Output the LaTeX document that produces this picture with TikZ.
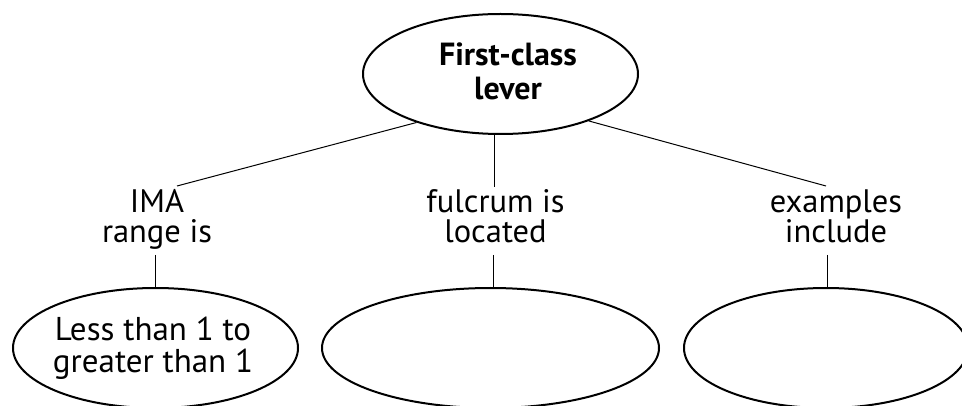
\documentclass[tikz,border=0pt]{standalone}
\usepackage{fontspec}
\setmainfont{PT Sans}
\usetikzlibrary{shapes.geometric}
\tikzset{
  bubble/.style={ellipse, draw=black, line width=2pt, inner sep=0pt},
  link/.style={draw=black, line width=1pt},
  lbl/.style={align=center, inner sep=0pt, anchor=base, font=\fontsize{32.5}{30}\selectfont},
}
\begin{document}
\begin{tikzpicture}[x=1pt,y=-1pt]
\useasboundingbox (0,0) rectangle (962,406);
% ellipses
\node[bubble, minimum width=275pt, minimum height=120pt] (top) at (500.5,74) {};
\node[inner sep=0pt, anchor=base, align=center, font=\fontsize{32}{34}\selectfont\bfseries] (toptxt) at (508,100) {First-class\\lever};
\node[bubble, minimum width=285pt, minimum height=120pt] (b1) at (155.5,348) {};
\node[inner sep=0pt, anchor=base, align=center, font=\fontsize{33}{32}\selectfont] (b1txt) at (153,372) {Less than 1 to\\greater than 1};
\node[bubble, minimum width=337pt, minimum height=120pt] (b2) at (490.5,348) {};
\node[bubble, minimum width=284pt, minimum height=120pt] (b3) at (826,348) {};
% labels
\node[lbl] (l1) at (157,243) {IMA\\range is};
\node[lbl] (l2) at (495.5,243) {fulcrum is\\located};
\node[lbl] (l3) at (836,243) {examples\\include};
% connector ends
\coordinate (a1) at (177,186);
\coordinate (a2) at (494,187);
\coordinate (a3) at (826,186);
\coordinate (d1) at (155,255);
\coordinate (d2) at (493,255);
\coordinate (d3) at (827,255);
% connectors
\draw[link] (top.210.9) -- (a1);
\draw[link] (a2 |- top.south) -- (a2);
\draw[link] (top.332.7) -- (a3);
\draw[link] (d1) -- (d1 |- b1.north);
\draw[link] (d2) -- (d2 |- b2.north);
\draw[link] (d3) -- (d3 |- b3.north);
\end{tikzpicture}
\end{document}
